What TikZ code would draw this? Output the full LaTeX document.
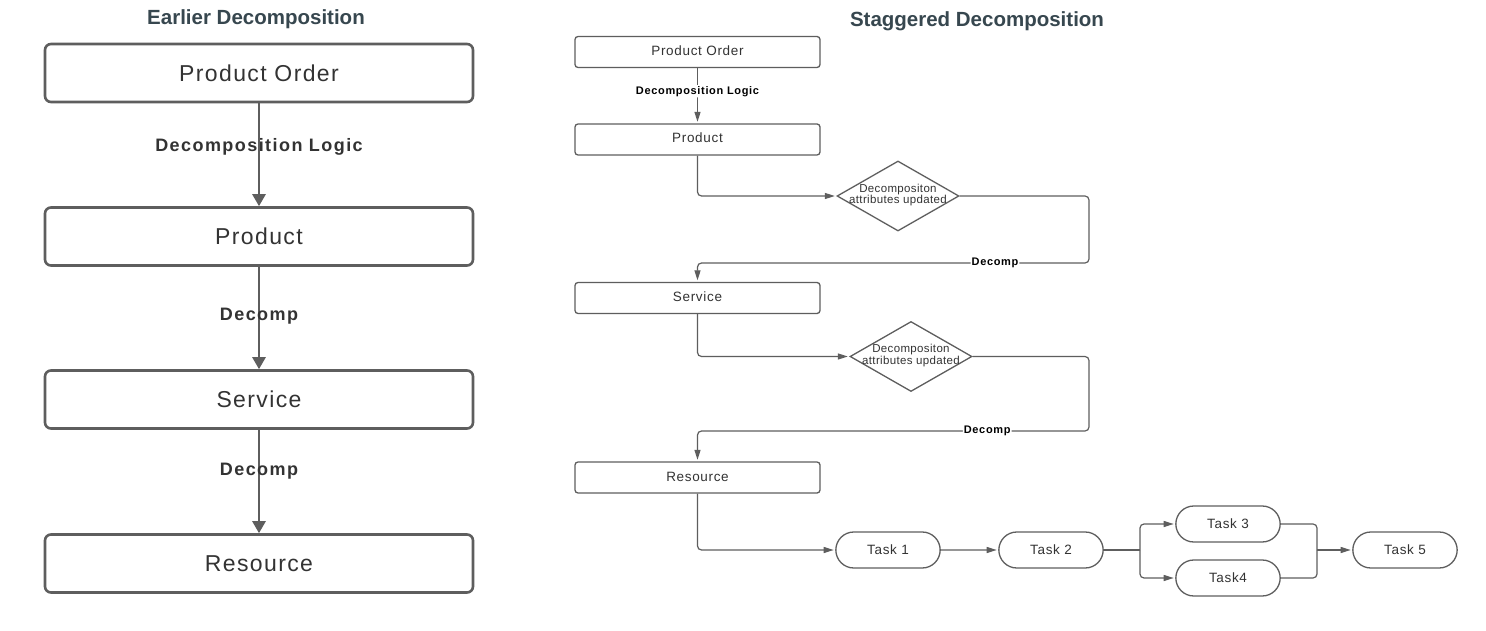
\documentclass[tikz,border=0pt]{standalone}
\usepackage{fontspec}
\setmainfont{Liberation Sans}
\usetikzlibrary{arrows.meta,shapes.geometric,shapes.misc}
\definecolor{ttl}{HTML}{37474F}
\definecolor{lg}{HTML}{5E5E5E}
\definecolor{tx}{HTML}{333333}
\tikzset{
 ttlstyle/.style={font=\bfseries\fontsize{20.5}{24}\selectfont, text=ttl},
 lbox/.style={draw=lg, line width=2.6pt, rounded corners=6pt, minimum width=428pt, minimum height=58pt, text=tx, font=\fontsize{23}{27}\selectfont\addfontfeatures{LetterSpace=6}},
 larr/.style={draw=lg, line width=2.6pt, -{Triangle[width=13pt,length=12pt]}},
 llab/.style={text=tx, font=\bfseries\fontsize{18}{22}\selectfont\addfontfeatures{LetterSpace=8}},
 rbox/.style={draw=lg, line width=1.3pt, rounded corners=3pt, minimum width=245pt, minimum height=31pt, text=tx, font=\fontsize{13.5}{15}\selectfont\addfontfeatures{LetterSpace=5}},
 rarr/.style={draw=lg, line width=1.2pt, rounded corners=4pt, -{Triangle[width=6pt,length=10pt]}, shorten >=1.5pt},
 rline/.style={draw=lg, line width=1.2pt, rounded corners=4pt},
 rlab/.style={fill=white, text=black, font=\bfseries\fontsize{11}{13}\selectfont\addfontfeatures{LetterSpace=6}, inner sep=1pt},
 dia/.style={diamond, draw=lg, line width=1.3pt, minimum width=122pt, minimum height=70pt, inner sep=0pt},
 dtext/.style={align=center, text=tx, font=\fontsize{11.5}{10}\selectfont\addfontfeatures{LetterSpace=3}, inner sep=0pt},
 task/.style={rounded rectangle, draw=lg, line width=1.3pt, minimum width=111pt, minimum height=36pt, text=tx, font=\fontsize{13.5}{16}\selectfont\addfontfeatures{LetterSpace=5}},
}
\begin{document}
\begin{tikzpicture}[x=1pt,y=-1pt]
\useasboundingbox[fill=white] (0,0) rectangle (1486,631);

% titles
\node[ttlstyle] (tleft) at (256,19) {Earlier Decomposition};
\node[ttlstyle] (tright) at (977,21) {Staggered Decomposition};

% left column
\node[lbox] (lpo) at (259,73) {Product Order};
\node[lbox] (lp) at (259,236.5) {Product};
\node[lbox] (ls) at (259,399.5) {Service};
\node[lbox] (lr) at (259,563.5) {Resource};
\draw[larr] (lpo) -- node[llab,pos=0.42] {Decomposition Logic} (lp);
\draw[larr] (lp) -- node[llab,pos=0.48] {Decomp} (ls);
\draw[larr] (ls) -- node[llab,pos=0.4] {Decomp} (lr);

% right column
\node[rbox] (rpo) at (697.5,52) {\raisebox{2pt}{Product Order}};
\node[rbox] (rp) at (697.5,139.5) {\raisebox{3pt}{Product}};
\node[dia] (d1) at (898,196) {};
\node[dtext] (d1t) at (898,195) {Decompositon\\attributes updated};
\coordinate (c1) at (1089,263);
\node[rbox] (rs) at (697.5,298) {\raisebox{2pt}{Service}};
\node[dia] (d2) at (911,356.5) {};
\node[dtext] (d2t) at (911,355.5) {Decompositon\\attributes updated};
\coordinate (c2) at (1089,431);
\node[rbox] (rr) at (697.5,477.5) {\raisebox{2pt}{Resource}};
\node[task] (k1) at (888,550) {Task 1};
\node[task] (k2) at (1051,550) {Task 2};
\node[task] (k3) at (1228,524) {Task 3};
\node[task] (k4) at (1228,578) {Task4};
\node[task] (k5) at (1405,550) {Task 5};
\coordinate (b1) at (1140,550);
\coordinate (m1) at (1317,550);

\draw[rarr] (rpo) -- node[rlab,pos=0.42] {Decomposition Logic} (rp);
\draw[rarr] (rp.south) |- (d1.west);
\draw[rarr] (d1.east) -| (c1) -| node[rlab,pos=0.12] {Decomp} (rs.north);
\draw[rarr] (rs.south) |- (d2.west);
\draw[rarr] (d2.east) -| (c2) -| node[rlab,pos=0.13] {Decomp} (rr.north);
\draw[rarr] (rr.south) |- (k1.west);
\draw[rarr] (k1) -- (k2);
\draw[rline] (k2.east) -- (b1);
\draw[rarr] (b1) |- (k3.west);
\draw[rarr] (b1) |- (k4.west);
\draw[rline] (k3.east) -| (m1);
\draw[rline] (k4.east) -| (m1);
\draw[rarr] (m1) -- (k5.west);
\end{tikzpicture}
\end{document}
